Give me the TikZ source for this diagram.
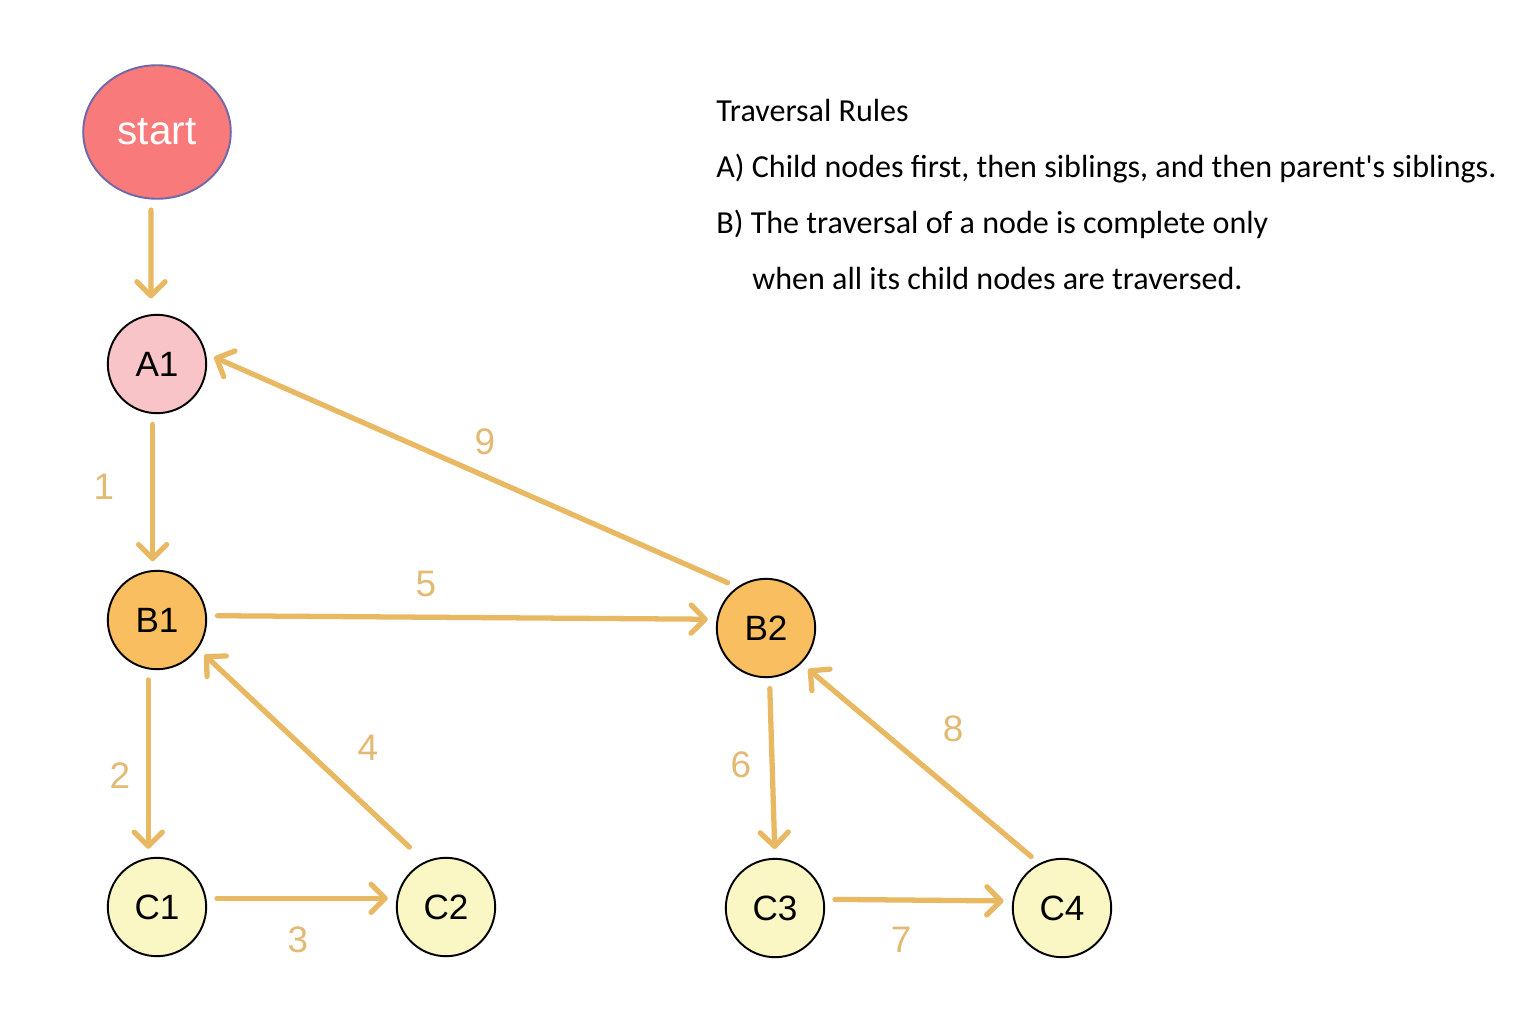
\documentclass[tikz,border=0pt]{standalone}
\usepackage{fontspec}
\setmainfont{Carlito}
\newfontfamily\helv{Liberation Sans}
\usetikzlibrary{arrows.meta,shapes.geometric}

\definecolor{startred}{RGB}{248,122,122}
\definecolor{startrim}{RGB}{112,104,168}
\definecolor{apink}{RGB}{248,196,200}
\definecolor{borange}{RGB}{248,190,96}
\definecolor{cyellow}{RGB}{250,247,196}
\definecolor{flowc}{RGB}{232,184,98}
\definecolor{numc}{RGB}{226,186,116}

\begin{document}
\begin{tikzpicture}[x=0.02cm,y=-0.02cm,
	vert/.style={circle,draw=black,line width=1.1pt,minimum size=56pt,inner sep=0pt,font=\helv\fontsize{20}{22}\selectfont},
	flow/.style={draw=flowc,line width=3pt,line cap=round,-{Straight Barb[length=8pt,width=16pt,round]},shorten <=6pt,shorten >=5pt},
	num/.style={text=numc,font=\helv\fontsize{21}{23}\selectfont},
	rule/.style={anchor=base west,inner sep=0pt,font=\fontsize{18.25}{20}\selectfont}]
				\useasboundingbox (0,0) rectangle (1538,1022);
				% nodes
				\node[ellipse,draw=startrim,line width=1.1pt,fill=startred,minimum width=84pt,minimum height=76pt,text=white,font=\helv\fontsize{23}{25}\selectfont] (start) at (157,132) {start};
				\node[vert,fill=apink] (A1) at (157,364) {A1};
				\node[vert,fill=borange] (B1) at (157,620) {B1};
				\node[vert,fill=borange] (B2) at (766,628) {B2};
				\node[vert,fill=cyellow] (C1) at (157,907) {C1};
				\node[vert,fill=cyellow] (C2) at (446,907) {C2};
				\node[vert,fill=cyellow] (C3) at (775,908) {C3};
				\node[vert,fill=cyellow] (C4) at (1062,908) {C4};
				% traversal order
				\draw[flow,shorten >=9pt] (start.-95) -- (A1.97);
				\draw[flow] (A1.-95) -- (B1.95);
				\draw[flow] (B1.-100) -- (C1.100);
				\draw[flow] (C1.10) -- (C2.170);
				\draw[flow,shorten <=12pt] (C2.115) -- (B1.-35);
				\draw[flow] (B1.5) -- (B2.170);
				\draw[flow] (B2.-86) -- (C3.90);
				\draw[flow] (C3.10) -- (C4.172);
				\draw[flow] (C4.117) -- (B2.-45);
				\draw[flow] (B2.125) -- (A1.12);
				\node[num] (n1) at (104,487) {1};
				\node[num] (n2) at (120,776) {2};
				\node[num] (n3) at (298,940) {3};
				\node[num] (n4) at (368,748) {4};
				\node[num] (n5) at (426,584) {5};
				\node[num] (n6) at (741,765) {6};
				\node[num] (n7) at (901,940) {7};
				\node[num] (n8) at (953,729) {8};
				\node[num] (n9) at (485,442) {9};
				% rules
				\node[rule] (r0) at (716,121) {Traversal Rules};
				\node[rule] (r1) at (716,177) {A) Child nodes first, then siblings, and then parent\textquotesingle s siblings.};
				\node[rule] (r2) at (716,233) {B) The traversal of a node is complete only};
				\node[rule] (r3) at (752,289) {when all its child nodes are traversed.};
		\end{tikzpicture}
\end{document}
